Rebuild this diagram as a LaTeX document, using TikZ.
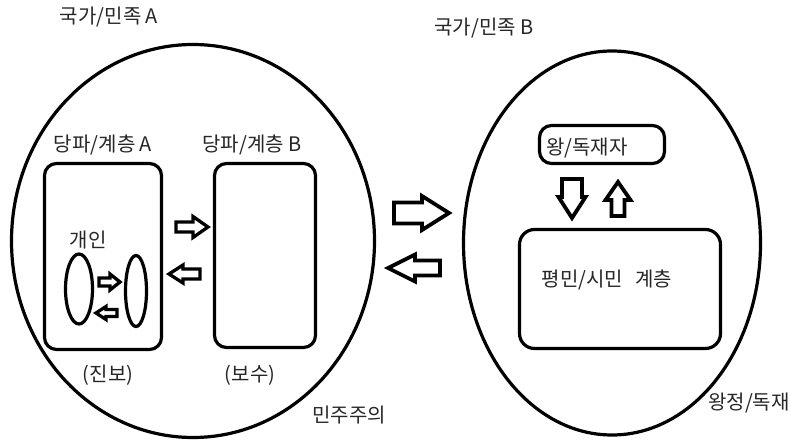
\documentclass[tikz,border=0pt]{standalone}
\usepackage{fontspec}
\setmainfont{Noto Sans CJK KR}
\usetikzlibrary{shapes.geometric}
\tikzset{
  lbl/.style={inner sep=0pt, font=\fontsize{20}{24}\selectfont, text=black!85},
  rbox/.style={draw, line width=3.2pt, inner sep=0pt, rounded corners=#1},
  oval/.style={draw, line width=3.2pt, ellipse, inner sep=0pt},
  arr/.style={draw, line width=#1, line join=miter, fill=white},
}
% #1 x, #2 y, #3 angle, #4 length, #5 shaft half, #6 head half, #7 head length, #8 line width
\newcommand\blockarr[8]{%
  \begin{scope}[shift={(#1,#2)}, rotate=#3]
    \draw[arr=#8] (0,-#5) -- (#4-#7,-#5) -- (#4-#7,-#6) -- (#4,0) -- (#4-#7,#6) -- (#4-#7,#5) -- (0,#5) -- cycle;
  \end{scope}}
\begin{document}
\begin{tikzpicture}[x=1pt, y=-1pt]
\useasboundingbox[fill=white] (0,0) rectangle (791,441);

% outer shapes
\node[oval, minimum width=363pt, minimum height=393pt] (natA) at (193,241) {};
\node[oval, minimum width=297pt, minimum height=384pt] (natB) at (612,243) {};

% boxes
\node[rbox=12pt, minimum width=117pt, minimum height=186pt] (boxA) at (103,256.5) {};
\node[rbox=12pt, minimum width=101pt, minimum height=184pt] (boxB) at (265,255.5) {};
\node[rbox=12pt, minimum width=125pt, minimum height=38pt] (king) at (602,144.5) {};
\node[rbox=15pt, minimum width=201pt, minimum height=119pt] (people) at (620,289) {};

% individuals
\node[oval, minimum width=27pt, minimum height=70pt] (ind1) at (79,289) {};
\node[oval, minimum width=21pt, minimum height=71pt] (ind2) at (136,291) {};

% labels
\node[lbl] (tA) at (109,17) {국가/민족 A};
\node[lbl] (tB) at (484,28) {국가/민족 B};
\node[lbl] (pA) at (103,145) {당파/계층 A};
\node[lbl] (pB) at (252,145) {당파/계층 B};
\node[lbl] (gi) at (88,240) {개인};
\node[lbl] (jb) at (108,375) {(진보)};
\node[lbl] (bs) at (250,375) {(보수)};
\node[lbl] (dem) at (349,415) {민주주의};
\node[lbl] (kt) at (587,148) {왕/독재자};
\node[lbl] (pt) at (607,280) {평민/시민\hspace{12pt}계층};
\node[lbl] (mon) at (749,403) {왕정/독재};

% block arrows
\blockarr{394}{213}{0}{55}{10.5}{17}{27}{3.8pt}
\blockarr{440}{268}{180}{52}{7.5}{13.5}{27}{3.8pt}
\blockarr{572}{179}{-90}{39}{10}{13.5}{21}{3.8pt}
\blockarr{618}{216}{90}{34}{6.5}{12.5}{18}{3.8pt}
\blockarr{176}{227}{0}{32}{5}{10.5}{15}{3.3pt}
\blockarr{200}{274}{180}{31}{5}{9}{14}{3.3pt}
\blockarr{99}{282}{0}{21}{4}{8}{10}{3.3pt}
\blockarr{117}{313}{180}{21}{3.5}{6.5}{10}{3.3pt}
\end{tikzpicture}
\end{document}
